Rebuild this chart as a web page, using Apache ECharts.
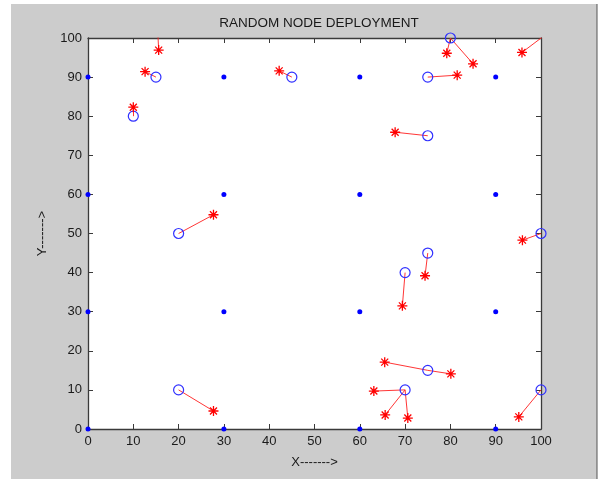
<!DOCTYPE html>
<html>
<head>
<meta charset="utf-8">
<script src="https://cdn.jsdelivr.net/npm/echarts@6/dist/echarts.min.js"></script>
<style>html,body{margin:0;padding:0;background:#fff;}#c{width:605px;height:479px;}</style>
</head>
<body>
<div id="c"></div>
<script>
// Anchor node grid coordinates
var anchorX = [0, 30, 60, 90];
var anchorY = [0, 30, 60, 90];
// Unknown node true positions (blue circles)
var nodeX = [10, 15, 15.3, 45, 80, 75, 75, 20, 100, 75, 70, 75, 70, 20, 100, 103];
var nodeY = [80, 90, 104, 90, 100, 90, 75, 50, 50, 45, 40, 15, 10, 10, 10, 102.6];
// Estimated positions (red stars) and the node each belongs to
var estX = [10, 12.6, 15.6, 42.2, 79.2, 85, 81.5, 67.8, 27.7, 95.9, 74.4, 69.4, 65.5, 80.1, 63.1, 65.6, 70.6, 27.7, 95.1, 95.8];
var estY = [82.3, 91.4, 96.9, 91.6, 96.1, 93.4, 90.5, 75.9, 54.8, 48.3, 39.2, 31.5, 17.1, 14.1, 9.7, 3.6, 2.8, 4.6, 3.1, 96.3];
var estNode = [0, 1, 2, 3, 4, 4, 5, 6, 7, 8, 9, 10, 11, 11, 12, 12, 12, 13, 14, 15];
var tickLabels = ['0','10','20','30','40','50','60','70','80','90','100'];

var anchors = [];
anchorY.forEach(function (y) { anchorX.forEach(function (x) { anchors.push([x, y]); }); });
var nodes = nodeX.map(function (x, i) { return [x, nodeY[i]]; });
var ests = estX.map(function (x, i) { return [x, estY[i]]; });
var links = estNode.map(function (n, i) { return { coords: [nodes[n], ests[i]] }; });

var FONT = 'Liberation Sans, Arial, sans-serif';
var axisColor = '#3a3a3a';
function xa(pos, show) {
  return {
    type: 'value', min: 0, max: 100, interval: 10, position: pos,
    axisLine: { show: true, onZero: false, lineStyle: { color: axisColor, width: 1.3 } },
    axisTick: { show: true, inside: true, length: 5, lineStyle: { color: axisColor } },
    axisLabel: { show: show, color: '#1a1a1a', fontSize: 13, fontFamily: FONT, margin: 6,
      formatter: function (v) { return tickLabels[Math.round(v / 10)]; } },
    splitLine: { show: false }
  };
}
var x1 = xa('bottom', true); x1.name = 'X------->'; x1.nameLocation = 'middle'; x1.nameGap = 27;
x1.nameTextStyle = { color: '#1a1a1a', fontSize: 13, fontFamily: FONT };
var x2 = xa('top', false);
var y1 = xa('left', true); y1.name = 'Y------->'; y1.nameLocation = 'middle'; y1.nameGap = 36;
y1.nameTextStyle = { color: '#1a1a1a', fontSize: 13, fontFamily: FONT };
y1.axisLabel.margin = 6;
var y2 = xa('right', false);

var starPath = 'path://M0,-10L0,10M-10,0L10,0M-7,-7L7,7M-7,7L7,-7';

var chart = echarts.init(document.getElementById('c'), null, { renderer: 'canvas' });
chart.setOption({
  animation: false,
  backgroundColor: '#ffffff',
  graphic: [
    { type: 'rect', z: -10, silent: true, shape: { x: 11, y: 4, width: 586, height: 475 }, style: { fill: '#cccccc' } },
    { type: 'line', z: -10, silent: true, shape: { x1: 597, y1: 4, x2: 597, y2: 479 }, style: { stroke: '#555', lineWidth: 1 } }
  ],
  title: { text: 'RANDOM NODE DEPLOYMENT', left: 314, textAlign: 'center', top: 11,
    textStyle: { color: '#1a1a1a', fontSize: 13.5, fontWeight: 'normal', fontFamily: FONT } },
  grid: { left: 88, right: 64, top: 38, bottom: 50, show: true, backgroundColor: '#ffffff', borderWidth: 0 },
  xAxis: [x1, x2],
  yAxis: [y1, y2],
  series: [
    { type: 'lines', coordinateSystem: 'cartesian2d', clip: true, data: links, z: 2,
      lineStyle: { color: '#ff2020', width: 1, opacity: 0.9 } },
    { type: 'scatter', data: anchors, symbol: 'circle', symbolSize: 5, clip: false, z: 3,
      itemStyle: { color: '#0000ff', opacity: 1 } },
    { type: 'scatter', data: nodes, symbol: 'circle', symbolSize: 10, clip: true, z: 4,
      itemStyle: { color: 'rgba(0,0,0,0)', borderColor: '#3030ff', borderWidth: 1.2, opacity: 1 } },
    { type: 'scatter', data: ests, symbol: starPath, symbolSize: 10, clip: true, z: 5,
      itemStyle: { color: '#ff0000', borderColor: '#ff0000', borderWidth: 1.3, opacity: 1 } }
  ]
});
</script>
</body>
</html>
